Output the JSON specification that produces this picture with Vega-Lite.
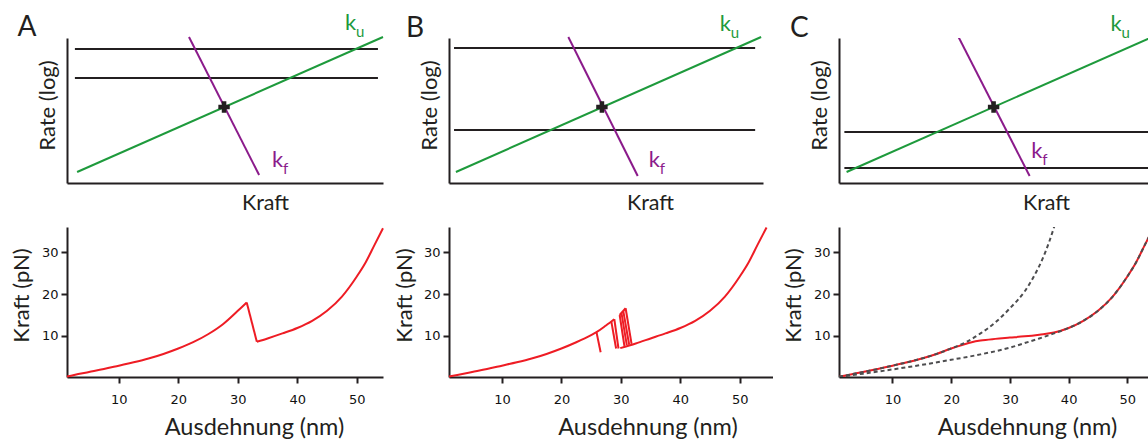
{
  "$schema": "https://vega.github.io/schema/vega-lite/v6.json",
  "background": "white",
  "padding": {"left": 9, "top": 12, "right": 0, "bottom": 0},
  "config": {
    "view": {"stroke": null},
    "title": {"anchor": "start", "frame": "group", "fontSize": 28, "font": "Lato", "fontWeight": "normal", "color": "#231f20", "baseline": "alphabetic", "offset": 0, "dy": 34},
    "axis": {
      "grid": false,
      "domainColor": "#231f20", "domainWidth": 2,
      "tickColor": "#231f20", "tickWidth": 2, "tickSize": 6,
      "titleFont": "Lato", "titleFontWeight": "normal", "titleColor": "#231f20", "titleAlign": "center"
    }
  },
  "datasets": {
    "levels": [
      {"panel": "A", "x": 0.25, "x2": 9.84, "y": 9.24},
      {"panel": "A", "x": 0.25, "x2": 9.84, "y": 7.24},
      {"panel": "B", "x": 0.16, "x2": 9.75, "y": 9.31},
      {"panel": "B", "x": 0.16, "x2": 9.75, "y": 3.66},
      {"panel": "C", "x": 0.17, "x2": 10, "y": 3.52},
      {"panel": "C", "x": 0.17, "x2": 10, "y": 1.03}
    ],
    "rates": [
      {"panel": "A", "rate": "ku", "x": 0.32, "y": 0.76},
      {"panel": "A", "rate": "ku", "x": 10.0, "y": 10.07},
      {"panel": "A", "rate": "kf", "x": 3.86, "y": 10.07},
      {"panel": "A", "rate": "kf", "x": 6.08, "y": 0.55},
      {"panel": "B", "rate": "ku", "x": 0.22, "y": 0.76},
      {"panel": "B", "rate": "ku", "x": 9.94, "y": 10.07},
      {"panel": "B", "rate": "kf", "x": 3.80, "y": 10.07},
      {"panel": "B", "rate": "kf", "x": 6.01, "y": 0.48},
      {"panel": "C", "rate": "ku", "x": 0.24, "y": 0.76},
      {"panel": "C", "rate": "ku", "x": 10.2, "y": 10.35},
      {"panel": "C", "rate": "kf", "x": 3.78, "y": 10.07},
      {"panel": "C", "rate": "kf", "x": 6.03, "y": 0.48}
    ],
    "crossings": [
      {"panel": "A", "x": 4.97, "y": 5.24},
      {"panel": "B", "x": 4.87, "y": 5.24},
      {"panel": "C", "x": 4.89, "y": 5.24}
    ],
    "labels": [
      {"panel": "A", "rate": "ku", "sub": "u", "x": 8.80, "y": 10.55},
      {"panel": "A", "rate": "kf", "sub": "f", "x": 6.49, "y": 1.10},
      {"panel": "B", "rate": "ku", "sub": "u", "x": 8.62, "y": 10.48},
      {"panel": "B", "rate": "kf", "sub": "f", "x": 6.36, "y": 1.10},
      {"panel": "C", "rate": "ku", "sub": "u", "x": 8.59, "y": 10.48},
      {"panel": "C", "rate": "kf", "sub": "f", "x": 6.08, "y": 1.72}
    ],
    "traces": [
      {"panel": "A", "trace": "folded", "x": 1.3, "y": 0.3},
      {"panel": "A", "trace": "folded", "x": 2.5, "y": 0.7},
      {"panel": "A", "trace": "folded", "x": 5, "y": 1.4},
      {"panel": "A", "trace": "folded", "x": 7.5, "y": 2.1},
      {"panel": "A", "trace": "folded", "x": 10, "y": 2.9},
      {"panel": "A", "trace": "folded", "x": 12.5, "y": 3.7},
      {"panel": "A", "trace": "folded", "x": 15, "y": 4.6},
      {"panel": "A", "trace": "folded", "x": 17.5, "y": 5.7},
      {"panel": "A", "trace": "folded", "x": 20, "y": 7.0},
      {"panel": "A", "trace": "folded", "x": 22.5, "y": 8.5},
      {"panel": "A", "trace": "folded", "x": 25, "y": 10.4},
      {"panel": "A", "trace": "folded", "x": 27.5, "y": 12.8},
      {"panel": "A", "trace": "folded", "x": 30, "y": 16.0},
      {"panel": "A", "trace": "folded", "x": 31.5, "y": 18.0},
      {"panel": "A", "trace": "rupture", "x": 31.5, "y": 18.0},
      {"panel": "A", "trace": "rupture", "x": 33.2, "y": 8.6},
      {"panel": "A", "trace": "unfolded", "x": 33.2, "y": 8.6},
      {"panel": "A", "trace": "unfolded", "x": 35, "y": 9.4},
      {"panel": "A", "trace": "unfolded", "x": 37.5, "y": 10.6},
      {"panel": "A", "trace": "unfolded", "x": 40, "y": 11.9},
      {"panel": "A", "trace": "unfolded", "x": 42.5, "y": 13.6},
      {"panel": "A", "trace": "unfolded", "x": 45, "y": 16.0},
      {"panel": "A", "trace": "unfolded", "x": 47.5, "y": 19.4},
      {"panel": "A", "trace": "unfolded", "x": 50, "y": 24.2},
      {"panel": "A", "trace": "unfolded", "x": 51.5, "y": 27.6},
      {"panel": "A", "trace": "unfolded", "x": 53, "y": 31.8},
      {"panel": "A", "trace": "unfolded", "x": 54.4, "y": 35.7},

      {"panel": "B", "trace": "folded", "x": 1.1, "y": 0.3},
      {"panel": "B", "trace": "folded", "x": 2.5, "y": 0.7},
      {"panel": "B", "trace": "folded", "x": 5, "y": 1.4},
      {"panel": "B", "trace": "folded", "x": 7.5, "y": 2.1},
      {"panel": "B", "trace": "folded", "x": 10, "y": 2.9},
      {"panel": "B", "trace": "folded", "x": 12.5, "y": 3.7},
      {"panel": "B", "trace": "folded", "x": 15, "y": 4.6},
      {"panel": "B", "trace": "folded", "x": 17.5, "y": 5.7},
      {"panel": "B", "trace": "folded", "x": 20, "y": 7.0},
      {"panel": "B", "trace": "folded", "x": 22.5, "y": 8.5},
      {"panel": "B", "trace": "folded", "x": 25, "y": 10.2},
      {"panel": "B", "trace": "folded", "x": 25.9, "y": 10.9},
      {"panel": "B", "trace": "folded", "x": 27.5, "y": 12.5},
      {"panel": "B", "trace": "folded", "x": 28.9, "y": 14.0},
      {"panel": "B", "trace": "r1", "x": 25.9, "y": 10.9},
      {"panel": "B", "trace": "r1", "x": 26.6, "y": 6.1},
      {"panel": "B", "trace": "r2", "x": 28.4, "y": 13.4},
      {"panel": "B", "trace": "r2", "x": 29.2, "y": 7.0},
      {"panel": "B", "trace": "r3", "x": 28.9, "y": 14.0},
      {"panel": "B", "trace": "r3", "x": 29.6, "y": 7.0},
      {"panel": "B", "trace": "top", "x": 29.8, "y": 15.0},
      {"panel": "B", "trace": "top", "x": 30.8, "y": 16.6},
      {"panel": "B", "trace": "r4", "x": 29.8, "y": 15.0},
      {"panel": "B", "trace": "r4", "x": 30.6, "y": 7.6},
      {"panel": "B", "trace": "r5", "x": 30.1, "y": 15.5},
      {"panel": "B", "trace": "r5", "x": 31.0, "y": 7.8},
      {"panel": "B", "trace": "r6", "x": 30.4, "y": 16.0},
      {"panel": "B", "trace": "r6", "x": 31.4, "y": 7.9},
      {"panel": "B", "trace": "r7", "x": 30.8, "y": 16.6},
      {"panel": "B", "trace": "r7", "x": 31.8, "y": 8.1},
      {"panel": "B", "trace": "unfolded", "x": 29.9, "y": 7.1},
      {"panel": "B", "trace": "unfolded", "x": 32.5, "y": 8.2},
      {"panel": "B", "trace": "unfolded", "x": 35, "y": 9.4},
      {"panel": "B", "trace": "unfolded", "x": 37.5, "y": 10.6},
      {"panel": "B", "trace": "unfolded", "x": 40, "y": 11.9},
      {"panel": "B", "trace": "unfolded", "x": 42.5, "y": 13.6},
      {"panel": "B", "trace": "unfolded", "x": 45, "y": 16.0},
      {"panel": "B", "trace": "unfolded", "x": 47.5, "y": 19.4},
      {"panel": "B", "trace": "unfolded", "x": 50, "y": 24.2},
      {"panel": "B", "trace": "unfolded", "x": 51.5, "y": 27.6},
      {"panel": "B", "trace": "unfolded", "x": 53, "y": 31.8},
      {"panel": "B", "trace": "unfolded", "x": 54.5, "y": 35.9},

      {"panel": "C", "trace": "measured", "x": 0.9, "y": 0.25},
      {"panel": "C", "trace": "measured", "x": 2.5, "y": 0.7},
      {"panel": "C", "trace": "measured", "x": 5, "y": 1.4},
      {"panel": "C", "trace": "measured", "x": 7.5, "y": 2.1},
      {"panel": "C", "trace": "measured", "x": 10, "y": 2.9},
      {"panel": "C", "trace": "measured", "x": 12.5, "y": 3.7},
      {"panel": "C", "trace": "measured", "x": 15, "y": 4.6},
      {"panel": "C", "trace": "measured", "x": 17.5, "y": 5.7},
      {"panel": "C", "trace": "measured", "x": 20, "y": 7.0},
      {"panel": "C", "trace": "measured", "x": 22, "y": 7.9},
      {"panel": "C", "trace": "measured", "x": 23.5, "y": 8.5},
      {"panel": "C", "trace": "measured", "x": 25, "y": 8.9},
      {"panel": "C", "trace": "measured", "x": 27.5, "y": 9.3},
      {"panel": "C", "trace": "measured", "x": 30, "y": 9.6},
      {"panel": "C", "trace": "measured", "x": 32.5, "y": 9.9},
      {"panel": "C", "trace": "measured", "x": 35, "y": 10.3},
      {"panel": "C", "trace": "measured", "x": 37.5, "y": 10.8},
      {"panel": "C", "trace": "measured", "x": 40, "y": 11.9},
      {"panel": "C", "trace": "measured", "x": 42.5, "y": 13.6},
      {"panel": "C", "trace": "measured", "x": 45, "y": 16.0},
      {"panel": "C", "trace": "measured", "x": 47.5, "y": 19.4},
      {"panel": "C", "trace": "measured", "x": 50, "y": 24.2},
      {"panel": "C", "trace": "measured", "x": 51.5, "y": 27.6},
      {"panel": "C", "trace": "measured", "x": 53, "y": 31.8},
      {"panel": "C", "trace": "measured", "x": 54.5, "y": 35.9}
    ],
    "models": [
      {"panel": "C", "state": "folded", "x": 0.9, "y": 0.25},
      {"panel": "C", "state": "folded", "x": 2.5, "y": 0.7},
      {"panel": "C", "state": "folded", "x": 5, "y": 1.4},
      {"panel": "C", "state": "folded", "x": 7.5, "y": 2.1},
      {"panel": "C", "state": "folded", "x": 10, "y": 2.9},
      {"panel": "C", "state": "folded", "x": 12.5, "y": 3.7},
      {"panel": "C", "state": "folded", "x": 15, "y": 4.6},
      {"panel": "C", "state": "folded", "x": 17.5, "y": 5.7},
      {"panel": "C", "state": "folded", "x": 20, "y": 7.0},
      {"panel": "C", "state": "folded", "x": 22.5, "y": 8.5},
      {"panel": "C", "state": "folded", "x": 25, "y": 10.6},
      {"panel": "C", "state": "folded", "x": 27.5, "y": 13.2},
      {"panel": "C", "state": "folded", "x": 30, "y": 16.6},
      {"panel": "C", "state": "folded", "x": 32.5, "y": 20.6},
      {"panel": "C", "state": "folded", "x": 34, "y": 24.0},
      {"panel": "C", "state": "folded", "x": 35.5, "y": 28.2},
      {"panel": "C", "state": "folded", "x": 36.7, "y": 32.5},
      {"panel": "C", "state": "folded", "x": 37.6, "y": 36.3},
      {"panel": "C", "state": "unfolded", "x": 0.9, "y": 0.2},
      {"panel": "C", "state": "unfolded", "x": 5, "y": 1.0},
      {"panel": "C", "state": "unfolded", "x": 10, "y": 2.0},
      {"panel": "C", "state": "unfolded", "x": 15, "y": 3.1},
      {"panel": "C", "state": "unfolded", "x": 20, "y": 4.3},
      {"panel": "C", "state": "unfolded", "x": 25, "y": 5.6},
      {"panel": "C", "state": "unfolded", "x": 30, "y": 7.2},
      {"panel": "C", "state": "unfolded", "x": 33.2, "y": 8.6},
      {"panel": "C", "state": "unfolded", "x": 35, "y": 9.4},
      {"panel": "C", "state": "unfolded", "x": 37.5, "y": 10.6},
      {"panel": "C", "state": "unfolded", "x": 40, "y": 11.9},
      {"panel": "C", "state": "unfolded", "x": 42.5, "y": 13.6},
      {"panel": "C", "state": "unfolded", "x": 45, "y": 16.0},
      {"panel": "C", "state": "unfolded", "x": 47.5, "y": 19.4},
      {"panel": "C", "state": "unfolded", "x": 50, "y": 24.2},
      {"panel": "C", "state": "unfolded", "x": 51.5, "y": 27.6},
      {"panel": "C", "state": "unfolded", "x": 53, "y": 31.8},
      {"panel": "C", "state": "unfolded", "x": 54.5, "y": 35.9}
    ]
  },
  "columns": 3,
  "bounds": "flush",
  "spacing": {"row": 44, "column": 66},
  "concat": [
    {
      "width": 316, "height": 145,
      "title": {"text": "A", "dx": -49.5},
      "encoding": {
        "x": {"field": "x", "type": "quantitative", "scale": {"domain": [0, 10], "nice": false, "zero": false},
              "axis": {"title": "Kraft", "ticks": false, "labels": false, "titleFontSize": 21.5, "titleX": 198, "titleY": 9.4, "titleBaseline": "top"}},
        "y": {"field": "y", "type": "quantitative", "scale": {"domain": [0, 10], "nice": false, "zero": false},
              "axis": {"title": "Rate (log)", "ticks": false, "labels": false, "titleFontSize": 22, "titleX": -7.5, "titleY": 67, "titleBaseline": "bottom"}}
      },
      "layer": [
        {"data": {"name": "levels"}, "transform": [{"filter": "datum.panel === 'A'"}],
         "mark": {"type": "rule", "color": "#231f20", "strokeWidth": 2}, "encoding": {"x2": {"field": "x2"}}},
        {"data": {"name": "rates"}, "transform": [{"filter": "datum.panel === 'A'"}],
         "mark": {"type": "line", "strokeWidth": 2},
         "encoding": {"color": {"field": "rate", "type": "nominal", "scale": {"domain": ["ku", "kf"], "range": ["#1e9a3c", "#8b1b8b"]}, "legend": null}}},
        {"data": {"name": "crossings"}, "transform": [{"filter": "datum.panel === 'A'"}],
         "mark": {"type": "point", "shape": "cross", "filled": true, "size": 130, "color": "#231f20", "opacity": 1}},
        {"data": {"name": "labels"}, "transform": [{"filter": "datum.panel === 'A'"}],
         "mark": {"type": "text", "text": "k", "align": "left", "baseline": "alphabetic", "fontSize": 22, "font": "Lato"},
         "encoding": {"color": {"field": "rate", "type": "nominal", "scale": {"domain": ["ku", "kf"], "range": ["#1e9a3c", "#8b1b8b"]}, "legend": null}}},
        {"data": {"name": "labels"}, "transform": [{"filter": "datum.panel === 'A'"}],
         "mark": {"type": "text", "align": "left", "baseline": "alphabetic", "fontSize": 15, "font": "Lato", "dx": 11, "dy": 7},
         "encoding": {"text": {"field": "sub"}, "color": {"field": "rate", "type": "nominal", "scale": {"domain": ["ku", "kf"], "range": ["#1e9a3c", "#8b1b8b"]}, "legend": null}}}
      ]
    },
    {
      "width": 314, "height": 145,
      "title": {"text": "B", "dx": -43},
      "encoding": {
        "x": {"field": "x", "type": "quantitative", "scale": {"domain": [0, 10], "nice": false, "zero": false},
              "axis": {"title": "Kraft", "ticks": false, "labels": false, "titleFontSize": 21.5, "titleX": 201, "titleY": 9.4, "titleBaseline": "top"}},
        "y": {"field": "y", "type": "quantitative", "scale": {"domain": [0, 10], "nice": false, "zero": false},
              "axis": {"title": "Rate (log)", "ticks": false, "labels": false, "titleFontSize": 22, "titleX": -7.5, "titleY": 67, "titleBaseline": "bottom"}}
      },
      "layer": [
        {"data": {"name": "levels"}, "transform": [{"filter": "datum.panel === 'B'"}],
         "mark": {"type": "rule", "color": "#231f20", "strokeWidth": 2}, "encoding": {"x2": {"field": "x2"}}},
        {"data": {"name": "rates"}, "transform": [{"filter": "datum.panel === 'B'"}],
         "mark": {"type": "line", "strokeWidth": 2},
         "encoding": {"color": {"field": "rate", "type": "nominal", "scale": {"domain": ["ku", "kf"], "range": ["#1e9a3c", "#8b1b8b"]}, "legend": null}}},
        {"data": {"name": "crossings"}, "transform": [{"filter": "datum.panel === 'B'"}],
         "mark": {"type": "point", "shape": "cross", "filled": true, "size": 130, "color": "#231f20", "opacity": 1}},
        {"data": {"name": "labels"}, "transform": [{"filter": "datum.panel === 'B'"}],
         "mark": {"type": "text", "text": "k", "align": "left", "baseline": "alphabetic", "fontSize": 22, "font": "Lato"},
         "encoding": {"color": {"field": "rate", "type": "nominal", "scale": {"domain": ["ku", "kf"], "range": ["#1e9a3c", "#8b1b8b"]}, "legend": null}}},
        {"data": {"name": "labels"}, "transform": [{"filter": "datum.panel === 'B'"}],
         "mark": {"type": "text", "align": "left", "baseline": "alphabetic", "fontSize": 15, "font": "Lato", "dx": 11, "dy": 7},
         "encoding": {"text": {"field": "sub"}, "color": {"field": "rate", "type": "nominal", "scale": {"domain": ["ku", "kf"], "range": ["#1e9a3c", "#8b1b8b"]}, "legend": null}}}
      ]
    },
    {
      "width": 309.5, "height": 145,
      "title": {"text": "C", "dx": -49},
      "encoding": {
        "x": {"field": "x", "type": "quantitative", "scale": {"domain": [0, 9.79], "nice": false, "zero": false},
              "axis": {"title": "Kraft", "ticks": false, "labels": false, "titleFontSize": 21.5, "titleX": 207, "titleY": 9.4, "titleBaseline": "top"}},
        "y": {"field": "y", "type": "quantitative", "scale": {"domain": [0, 10], "nice": false, "zero": false},
              "axis": {"title": "Rate (log)", "ticks": false, "labels": false, "titleFontSize": 22, "titleX": -7.5, "titleY": 67, "titleBaseline": "bottom"}}
      },
      "layer": [
        {"data": {"name": "levels"}, "transform": [{"filter": "datum.panel === 'C'"}],
         "mark": {"type": "rule", "color": "#231f20", "strokeWidth": 2, "clip": true}, "encoding": {"x2": {"field": "x2"}}},
        {"data": {"name": "rates"}, "transform": [{"filter": "datum.panel === 'C'"}],
         "mark": {"type": "line", "strokeWidth": 2, "clip": true},
         "encoding": {"color": {"field": "rate", "type": "nominal", "scale": {"domain": ["ku", "kf"], "range": ["#1e9a3c", "#8b1b8b"]}, "legend": null}}},
        {"data": {"name": "crossings"}, "transform": [{"filter": "datum.panel === 'C'"}],
         "mark": {"type": "point", "shape": "cross", "filled": true, "size": 130, "color": "#231f20", "opacity": 1}},
        {"data": {"name": "labels"}, "transform": [{"filter": "datum.panel === 'C'"}],
         "mark": {"type": "text", "text": "k", "align": "left", "baseline": "alphabetic", "fontSize": 22, "font": "Lato"},
         "encoding": {"color": {"field": "rate", "type": "nominal", "scale": {"domain": ["ku", "kf"], "range": ["#1e9a3c", "#8b1b8b"]}, "legend": null}}},
        {"data": {"name": "labels"}, "transform": [{"filter": "datum.panel === 'C'"}],
         "mark": {"type": "text", "align": "left", "baseline": "alphabetic", "fontSize": 15, "font": "Lato", "dx": 11, "dy": 7},
         "encoding": {"text": {"field": "sub"}, "color": {"field": "rate", "type": "nominal", "scale": {"domain": ["ku", "kf"], "range": ["#1e9a3c", "#8b1b8b"]}, "legend": null}}}
      ]
    },
    {
      "width": 316, "height": 150,
      "data": {"name": "traces"},
      "transform": [{"filter": "datum.panel === 'A'"}],
      "mark": {"type": "line", "color": "#ee1c24", "strokeWidth": 2, "interpolate": "monotone"},
      "encoding": {
        "x": {"field": "x", "type": "quantitative", "scale": {"domain": [1.3, 54.4], "nice": false, "zero": false},
              "axis": {"title": "Ausdehnung (nm)", "values": [10, 20, 30, 40, 50], "labelFont": "DejaVu Sans", "labelFontSize": 13, "labelColor": "#111111", "labelPadding": 10, "titleFontSize": 23.5, "titleX": 187, "titleY": 38.3, "titleBaseline": "top"}},
        "y": {"field": "y", "type": "quantitative", "scale": {"domain": [0.2, 36], "nice": false, "zero": false},
              "axis": {"title": "Kraft (pN)", "values": [10, 20, 30], "labelFont": "DejaVu Sans", "labelFontSize": 13, "labelColor": "#111111", "labelPadding": 3, "titleFontSize": 22, "titleX": -34, "titleY": 68, "titleBaseline": "bottom"}},
        "detail": {"field": "trace"}
      }
    },
    {
      "width": 323.5, "height": 150,
      "data": {"name": "traces"},
      "transform": [{"filter": "datum.panel === 'B'"}],
      "mark": {"type": "line", "color": "#ee1c24", "strokeWidth": 2, "interpolate": "monotone"},
      "encoding": {
        "x": {"field": "x", "type": "quantitative", "scale": {"domain": [1.1, 55.5], "nice": false, "zero": false},
              "axis": {"title": "Ausdehnung (nm)", "values": [10, 20, 30, 40, 50], "labelFont": "DejaVu Sans", "labelFontSize": 13, "labelColor": "#111111", "labelPadding": 10, "titleFontSize": 23.5, "titleX": 198.5, "titleY": 38.3, "titleBaseline": "top"}},
        "y": {"field": "y", "type": "quantitative", "scale": {"domain": [0.2, 36], "nice": false, "zero": false},
              "axis": {"title": "Kraft (pN)", "values": [10, 20, 30], "labelFont": "DejaVu Sans", "labelFontSize": 13, "labelColor": "#111111", "labelPadding": 3, "titleFontSize": 22, "titleX": -33, "titleY": 68, "titleBaseline": "bottom"}},
        "detail": {"field": "trace"}
      }
    },
    {
      "width": 309.5, "height": 150,
      "encoding": {
        "x": {"field": "x", "type": "quantitative", "scale": {"domain": [0.9, 53.6], "nice": false, "zero": false},
              "axis": {"title": "Ausdehnung (nm)", "values": [10, 20, 30, 40, 50], "labelFont": "DejaVu Sans", "labelFontSize": 13, "labelColor": "#111111", "labelPadding": 10, "titleFontSize": 23.5, "titleX": 188, "titleY": 38.3, "titleBaseline": "top"}},
        "y": {"field": "y", "type": "quantitative", "scale": {"domain": [0.2, 36], "nice": false, "zero": false},
              "axis": {"title": "Kraft (pN)", "values": [10, 20, 30], "labelFont": "DejaVu Sans", "labelFontSize": 13, "labelColor": "#111111", "labelPadding": 3, "titleFontSize": 22, "titleX": -34, "titleY": 68, "titleBaseline": "bottom"}}
      },
      "layer": [
        {"data": {"name": "traces"}, "transform": [{"filter": "datum.panel === 'C'"}],
         "mark": {"type": "line", "color": "#ee1c24", "strokeWidth": 2, "interpolate": "monotone", "clip": true},
         "encoding": {"detail": {"field": "trace"}}},
        {"data": {"name": "models"}, "transform": [{"filter": "datum.panel === 'C'"}],
         "mark": {"type": "line", "color": "#4d4d4f", "strokeWidth": 2, "strokeDash": [4, 3], "interpolate": "monotone", "clip": true},
         "encoding": {"detail": {"field": "state"}}}
      ]
    }
  ]
}
